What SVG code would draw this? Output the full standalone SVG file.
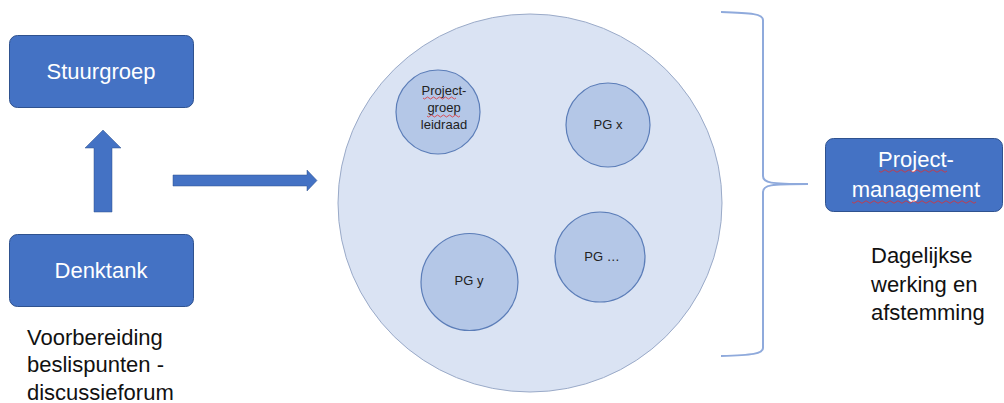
<svg xmlns="http://www.w3.org/2000/svg" width="1004" height="403" viewBox="0 0 1004 403">
<style>
.box{fill:#4472C4;stroke:#2F528F;stroke-width:1}
.bt{fill:#fff;font-family:"Liberation Sans",Arial,sans-serif;font-size:22px;text-anchor:middle}
.sc{fill:#B4C7E7;stroke:#5B7DB8;stroke-width:1.2}
.st{fill:#222;font-family:"Liberation Sans",Arial,sans-serif;font-size:13px;text-anchor:middle}
.lbl{fill:#111;font-family:"Liberation Sans",Arial,sans-serif;font-size:22px}
.arr{fill:#4472C4;stroke:#2F528F;stroke-width:0.5}
.sq{fill:none;stroke:#E03030;stroke-width:0.8}
</style>
<rect width="1004" height="403" fill="#fff"/>
<g id="stuurgroep">
<rect class="box" x="9.5" y="35.5" width="184" height="72" rx="8"/>
<text class="bt" x="101" y="79">Stuurgroep</text>
</g>
<g id="denktank">
<rect class="box" x="9.5" y="234.5" width="184" height="72" rx="8"/>
<text class="bt" x="101" y="278">Denktank</text>
<text class="lbl" x="27" y="345">Voorbereiding</text>
<text class="lbl" x="27" y="372">beslispunten -</text>
<text class="lbl" x="27" y="400">discussieforum</text>
</g>
<g id="connectors">
<polygon class="arr" points="94,212 94,148 85,148 103,130 121,148 112,148 112,212"/>
<polygon class="arr" points="173,175 307,175 307,170 317,180.5 307,191 307,186 173,186"/>
</g>
<g id="projectgroepen">
<ellipse cx="530" cy="203" rx="192" ry="189" fill="#DAE3F3" stroke="#9AAAC8" stroke-width="1"/>
</g>
<g id="pg-leidraad">
<circle class="sc" cx="438" cy="112" r="42"/>
<text class="st" x="444" y="95">Project-</text>
<text class="st" x="444" y="112">groep</text>
<text class="st" x="444" y="129">leidraad</text>
<path class="sq" d="M423,98 q1.5,2 3,0 t3,0 t3,0 t3,0 t3,0 t3,0 t3,0 t3,0 t3,0 t3,0 t3,0"/>
<path class="sq" d="M427,116 q1.5,2 3,0 t3,0 t3,0 t3,0 t3,0 t3,0 t3,0 t3,0 t3,0 t3,0 t3,0"/>
</g>
<g id="pg-x">
<circle class="sc" cx="608" cy="125" r="42"/>
<text class="st" x="608" y="129">PG x</text>
</g>
<g id="pg-y">
<circle class="sc" cx="469.5" cy="282" r="48.5"/>
<text class="st" x="469" y="285">PG y</text>
</g>
<g id="pg-dots">
<circle class="sc" cx="600" cy="257" r="45"/>
<text class="st" x="602" y="261">PG …</text>
</g>
<g id="brace">
<path d="M721,12 C752,13 763,14 763,20 L763,176 C763,183 770,184 808,184 C770,184 763,185 763,192 L763,348 C763,354 752,355 721,356" fill="none" stroke="#8FAADC" stroke-width="2"/>
</g>
<g id="projectmanagement">
<rect class="box" x="825.5" y="138.5" width="177" height="73" rx="8"/>
<text class="bt" x="916" y="167">Project-</text>
<text class="bt" x="916" y="197">management</text>
<path class="sq" d="M879,171 q2,2.5 4,0 t4,0 t4,0 t4,0 t4,0 t4,0 t4,0 t4,0 t4,0 t4,0 t4,0 t4,0 t4,0 t4,0 t4,0 t4,0 t4,0"/>
<path class="sq" d="M852,202 q2,2.5 4,0 t4,0 t4,0 t4,0 t4,0 t4,0 t4,0 t4,0 t4,0 t4,0 t4,0 t4,0 t4,0 t4,0 t4,0 t4,0 t4,0 t4,0 t4,0 t4,0 t4,0 t4,0 t4,0 t4,0 t4,0 t4,0 t4,0 t4,0 t4,0 t4,0 t4,0"/>
<text class="lbl" x="871" y="263">Dagelijkse</text>
<text class="lbl" x="871" y="292">werking en</text>
<text class="lbl" x="871" y="320">afstemming</text>
</g>
</svg>
